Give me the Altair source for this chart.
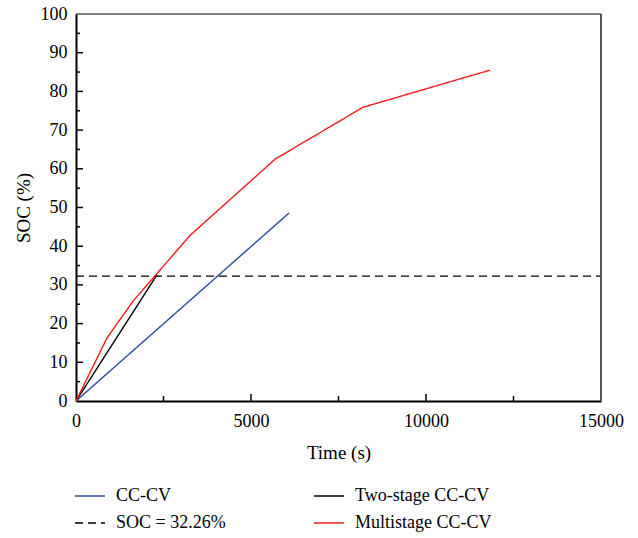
import altair as alt
import pandas as pd

# ---- data ----
cc_time = [0, 6090]
cc_soc = [0, 48.6]

two_time = [0, 2290, 2350]
two_soc = [0, 32.26, 32.26]

multi_time = [0, 886, 1630, 3260, 5690, 8200, 11830]
multi_soc = [0, 16.3, 25.8, 42.8, 62.5, 75.9, 85.5]

ref_time = [0, 15000]
ref_soc = [32.26, 32.26]

series_names = ["CC-CV", "SOC = 32.26%", "Two-stage CC-CV", "Multistage CC-CV"]
series_colors = ["#2b4c9f", "#000000", "#000000", "#f41c1c"]
series_dash = [[1, 0], [8, 5], [1, 0], [1, 0]]

x_major = [0, 5000, 10000, 15000]
x_minor = [2500, 7500, 12500]
y_major = [0, 10, 20, 30, 40, 50, 60, 70, 80, 90, 100]
y_minor = [5, 15, 25, 35, 45, 55, 65, 75, 85, 95]

rows = []
for name, ts, ss in [("CC-CV", cc_time, cc_soc),
                     ("Two-stage CC-CV", two_time, two_soc),
                     ("SOC = 32.26%", ref_time, ref_soc),
                     ("Multistage CC-CV", multi_time, multi_soc)]:
    for i, (t, s) in enumerate(zip(ts, ss)):
        rows.append({"series": name, "time": t, "soc": s, "idx": i})
df = pd.DataFrame(rows)

W, H = 525, 387
FONT = "Liberation Serif"

xscale = alt.Scale(domain=[0, 15000], nice=False, zero=False)
yscale = alt.Scale(domain=[0, 100], nice=False)

x_axis = alt.Axis(values=x_major, title="Time (s)", ticks=False, grid=False,
                  format="d", labelPadding=11, titlePadding=13, labelFlush=False,
                  domainWidth=2, domainColor="black", labelOverlap=False)
y_axis = alt.Axis(values=y_major, title="SOC (%)", ticks=False, grid=False,
                  labelPadding=9, titlePadding=7, labelFlush=False,
                  domainWidth=2, domainColor="black", labelOverlap=False)

legend_kw = dict(title=None, orient="none", legendX=-2, legendY=466,
                 columns=2, columnPadding=85, rowPadding=2,
                 symbolType="stroke", symbolSize=900,
                 symbolStrokeWidth=1.5, labelOffset=10,
                 labelFontSize=18, labelFont=FONT,
                 labelColor="black", gridAlign="each")

lines = alt.Chart(df).mark_line(strokeWidth=1.4, clip=True).encode(
    x=alt.X("time:Q", scale=xscale, axis=x_axis, title="Time (s)"),
    y=alt.Y("soc:Q", scale=yscale, axis=y_axis, title="SOC (%)"),
    color=alt.Color("series:N",
                    scale=alt.Scale(domain=series_names, range=series_colors),
                    legend=alt.Legend(**legend_kw)),
    strokeDash=alt.StrokeDash("series:N",
                              scale=alt.Scale(domain=series_names, range=series_dash),
                              legend=alt.Legend(**legend_kw)),
    detail="series:N",
    order="idx:Q",
)

xmaj = pd.DataFrame({"v": x_major[1:-1]})
xmin = pd.DataFrame({"v": x_minor})
ymaj = pd.DataFrame({"v": y_major[1:-1]})
ymin = pd.DataFrame({"v": y_minor})


def xenc():
    return alt.X("v:Q", scale=xscale, axis=x_axis, title="Time (s)")


def yenc():
    return alt.Y("v:Q", scale=yscale, axis=y_axis, title="SOC (%)")


xt_major = alt.Chart(xmaj).mark_rule(color="black", strokeWidth=1.5).encode(
    x=xenc(), y=alt.value(H), y2=alt.value(H - 7))
xt_minor = alt.Chart(xmin).mark_rule(color="black", strokeWidth=1.5).encode(
    x=xenc(), y=alt.value(H), y2=alt.value(H - 5))
yt_major = alt.Chart(ymaj).mark_rule(color="black", strokeWidth=1.5).encode(
    y=yenc(), x=alt.value(0), x2=alt.value(7))
yt_minor = alt.Chart(ymin).mark_rule(color="black", strokeWidth=1.5).encode(
    y=yenc(), x=alt.value(0), x2=alt.value(4))

top_line = alt.Chart(pd.DataFrame({"v": [100]})).mark_rule(color="black", strokeWidth=1.2).encode(
    y=yenc(), x=alt.value(0), x2=alt.value(W))
right_line = alt.Chart(pd.DataFrame({"v": [15000]})).mark_rule(color="#555555", strokeWidth=2).encode(
    x=xenc(), y=alt.value(0), y2=alt.value(H))

chart = alt.layer(lines, xt_major, xt_minor, yt_major, yt_minor, top_line, right_line).properties(
    width=W, height=H,
    background="white",
    autosize=alt.AutoSizeParams(type="none"),
    padding={"left": 76, "top": 14, "right": 37, "bottom": 137},
).configure_view(stroke=None).configure_axis(
    labelFont=FONT, titleFont=FONT, labelFontSize=18, titleFontSize=19,
    labelColor="black", titleColor="black", titleFontWeight="normal",
)

chart.save("out.html", embed_options={"renderer": "svg", "actions": False})
